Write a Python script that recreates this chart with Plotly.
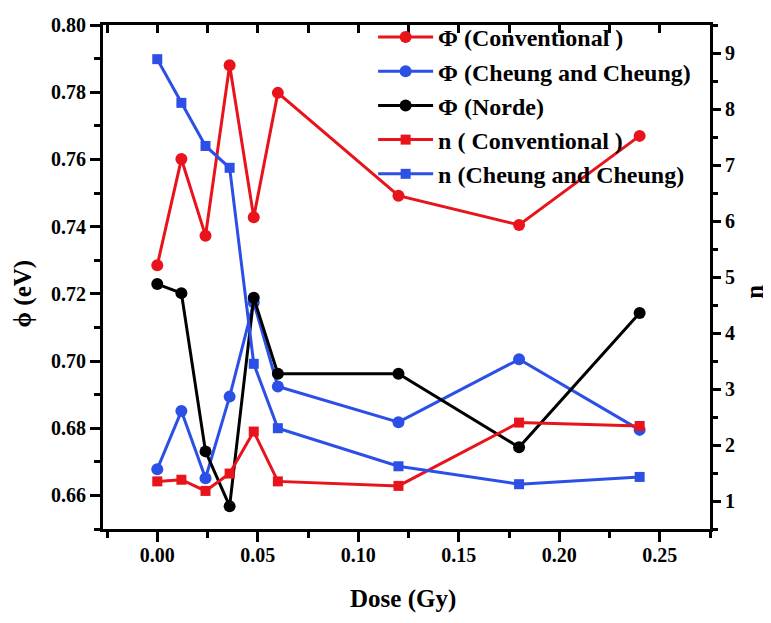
import plotly.graph_objects as go

dose = [0.0, 0.012, 0.024, 0.036, 0.048, 0.06, 0.12, 0.18, 0.24]
phi_conv = [0.7285, 0.7601, 0.7373, 0.7880, 0.7428, 0.7798, 0.7492, 0.7405, 0.7670]
phi_cheung = [0.6678, 0.6851, 0.6651, 0.6894, 0.7174, 0.6924, 0.6818, 0.7005, 0.6795]
phi_norde = [0.7229, 0.7202, 0.6731, 0.6568, 0.7188, 0.6962, 0.6962, 0.6743, 0.7143]
n_conv = [1.35, 1.38, 1.18, 1.49, 2.24, 1.35, 1.27, 2.40, 2.34]
n_cheung = [8.89, 8.11, 7.34, 6.95, 3.45, 2.30, 1.62, 1.30, 1.43]

names = ["Φ (Conventional )", "Φ (Cheung and Cheung)", "Φ (Norde)",
         "n ( Conventional )", "n (Cheung and Cheung)"]
x_title = "Dose (Gy)"
y_title = "ϕ (eV)"
y2_title = "n"

RED = "#E8131B"
BLUE = "#2C4FE6"
BLACK = "#000000"
FONT = "Liberation Serif"

fig = go.Figure()

def add(y, name, color, symbol, axis, size, grp):
    fig.add_trace(go.Scatter(
        x=dose, y=y, name=name, mode="lines+markers",
        line=dict(color=color, width=3),
        marker=dict(color=color, symbol=symbol, size=size),
        yaxis=axis, legendgroup=grp))

add(phi_conv, names[0], RED, "circle", "y", 12, "a")
add(phi_cheung, names[1], BLUE, "circle", "y", 12, "b")
add(phi_norde, names[2], BLACK, "circle", "y", 12, "c")
add(n_conv, names[3], RED, "square", "y2", 10, "d")
add(n_cheung, names[4], BLUE, "square", "y2", 10, "e")

# empty trace to realise the top axis
fig.add_trace(go.Scatter(x=[], y=[], xaxis="x2", yaxis="y", showlegend=False, hoverinfo="skip"))

xr = [-0.027, 0.275]
tickfont = dict(family=FONT, size=20, color="black", weight="bold")
titlefont = dict(family=FONT, size=25, color="black", weight="bold")

# page body has an 8px default margin, so the figure is offset by (8, 8)
fig.update_layout(
    width=763, height=615,
    margin=dict(l=95, r=61, t=7, b=94),
    paper_bgcolor="white", plot_bgcolor="white",
    font=dict(family=FONT, color="black"),
    showlegend=True,
    legend=dict(x=0.445, y=1.02, xanchor="left", yanchor="top",
                bgcolor="rgba(0,0,0,0)", itemwidth=55,
                font=dict(family=FONT, size=24, color="black", weight="bold"),
                traceorder="grouped", tracegroupgap=0),
    xaxis=dict(range=xr, dtick=0.05, tick0=0, tickformat=".2f", automargin=False,
               showline=True, linewidth=3, linecolor="black",
               ticks="outside", ticklen=10, tickwidth=3, tickcolor="black",
               ticklabelstandoff=-4, ticklabeloverflow="allow",
               minor=dict(dtick=0.025, ticks="outside", ticklen=6, tickwidth=3, tickcolor="black"),
               showgrid=False, zeroline=False, tickfont=tickfont),
    xaxis2=dict(range=xr, overlaying="x", side="top", anchor="y", automargin=False,
                showline=True, linewidth=3, linecolor="black",
                ticks="inside", ticklen=8, tickwidth=3, tickcolor="black",
                dtick=0.025, tick0=0, showticklabels=False, showgrid=False, zeroline=False),
    yaxis=dict(range=[0.65, 0.80], dtick=0.02, tick0=0, tickformat=".2f", automargin=False,
               showline=True, linewidth=3, linecolor="black",
               ticks="outside", ticklen=10, tickwidth=3, tickcolor="black",
               ticklabeloverflow="allow",
               minor=dict(dtick=0.01, ticks="outside", ticklen=6, tickwidth=3, tickcolor="black"),
               showgrid=False, zeroline=False, tickfont=tickfont),
    yaxis2=dict(range=[0.5, 9.5], dtick=1, tick0=0, overlaying="y", side="right", anchor="x",
                automargin=False, ticklabeloverflow="allow",
                showline=True, linewidth=3, linecolor="black",
                ticks="outside", ticklen=8, tickwidth=3, tickcolor="black",
                minor=dict(dtick=0.5, ticks="outside", ticklen=5, tickwidth=3, tickcolor="black"),
                showgrid=False, zeroline=False, tickfont=tickfont),
    annotations=[
        dict(text=x_title, xref="paper", yref="paper", x=0.495, y=-0.138,
             xanchor="center", yanchor="middle", showarrow=False, font=titlefont),
        dict(text=y_title, xref="paper", yref="paper", x=-0.132, y=0.467,
             xanchor="center", yanchor="middle", textangle=-90, showarrow=False, font=titlefont),
        dict(text=y2_title, xref="paper", yref="paper", x=1.072, y=0.47,
             xanchor="center", yanchor="middle", textangle=-90, showarrow=False, font=titlefont),
    ],
)

fig.write_html("out.html")
